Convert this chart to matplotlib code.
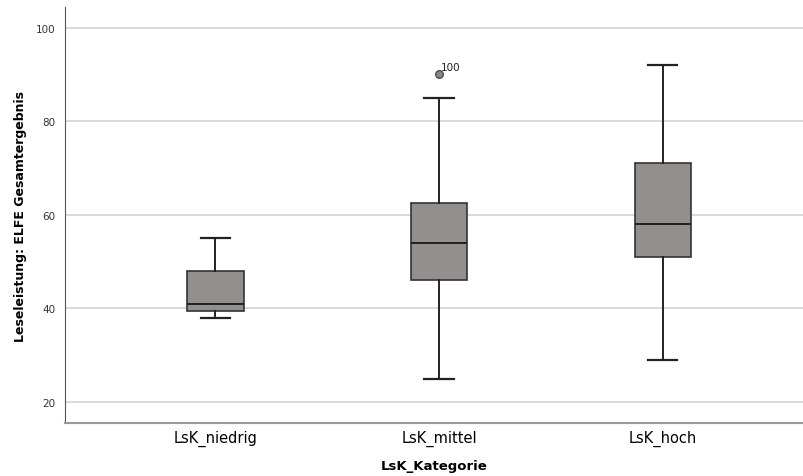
import matplotlib
matplotlib.use("Agg")
import matplotlib.pyplot as plt

# Werte
kategorien = ["LsK_niedrig", "LsK_mittel", "LsK_hoch"]
whisker_unten = [38, 25, 29]
q1 = [39.5, 46, 51]
median = [41, 54, 58]
q3 = [48, 62.5, 71]
whisker_oben = [55, 85, 92]
ausreisser = [[], [90], []]
ausreisser_fall = [[], ["100"], []]

stats = []
for i in range(len(kategorien)):
    stats.append(dict(label=kategorien[i], whislo=whisker_unten[i], q1=q1[i],
                      med=median[i], q3=q3[i], whishi=whisker_oben[i],
                      fliers=ausreisser[i]))

fig = plt.figure(figsize=(8.04, 4.77), dpi=100)
ax = fig.add_axes([0.081, 0.111, 0.919, 0.872])

pos = [1, 2, 3]
ax.bxp(stats, positions=pos, widths=0.254, patch_artist=True,
       boxprops=dict(facecolor="#938f8d", edgecolor="#333333", linewidth=1.2),
       medianprops=dict(color="#222222", linewidth=1.4),
       whiskerprops=dict(color="#222222", linewidth=1.4),
       capprops=dict(color="#222222", linewidth=1.6),
       flierprops=dict(marker="o", markerfacecolor="#8a8684", markeredgecolor="#444444",
                       markersize=5.5, markeredgewidth=0.9),
       capwidths=0.13, zorder=3)

for i in range(len(kategorien)):
    for v, t in zip(ausreisser[i], ausreisser_fall[i]):
        ax.annotate(t, (pos[i], v), xytext=(1.5, 3), textcoords="offset points",
                    fontsize=7.5, color="#222222")

ax.set_xlim(0.33, 3.63)
ax.set_ylim(15.5, 104.4)
ax.set_yticks([20, 40, 60, 80, 100])
ax.yaxis.grid(True, color="#d4d4d4", linewidth=1.2, zorder=0)
ax.set_axisbelow(True)
ax.tick_params(axis="y", length=0, labelsize=7.5, pad=7, labelcolor="#333333")
ax.tick_params(axis="x", length=0, labelsize=10.5, pad=5)

for s in ["top", "right"]:
    ax.spines[s].set_visible(False)
ax.spines["left"].set_color("#555555")
ax.spines["bottom"].set_color("#999999")
ax.spines["bottom"].set_linewidth(1.5)

ax.set_xlabel("LsK_Kategorie", fontsize=9.5, fontweight="bold", labelpad=9)
ax.set_ylabel("Leseleistung: ELFE Gesamtergebnis", fontsize=9, fontweight="bold", labelpad=6)

fig.savefig("out.png", dpi=100)
